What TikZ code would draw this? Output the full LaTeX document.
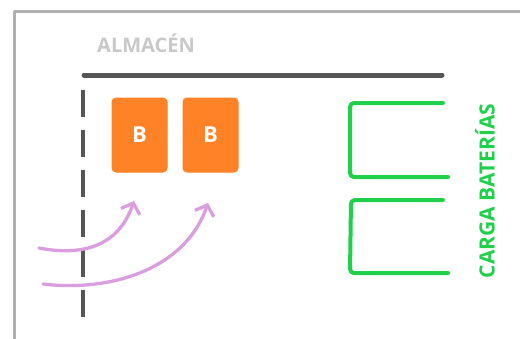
\documentclass[tikz,border=0pt]{standalone}
\usepackage{fontspec}
\setmainfont{Open Sans}
\usetikzlibrary{arrows.meta}
\definecolor{framegrey}{HTML}{B0B0B0}
\definecolor{labelgrey}{HTML}{C8C8C8}
\definecolor{wallgrey}{HTML}{555555}
\definecolor{battorange}{HTML}{FF8226}
\definecolor{chargegreen}{HTML}{1FD14A}
\definecolor{pathviolet}{HTML}{DA9DE0}
\tikzset{
  battery/.style={fill=battorange, draw=battorange, line width=1pt, rounded corners=4pt,
    minimum width=55pt, minimum height=74pt, inner sep=0pt,
    text=white, font=\bfseries\fontsize{22}{22}\selectfont},
  bay/.style={draw=chargegreen, line width=4pt, line cap=round, line join=round, rounded corners=4pt},
  route/.style={draw=pathviolet, line width=3.3pt, line cap=round,
    -{Straight Barb[length=9pt, width=20pt, line width=3.3pt]}},
}
\begin{document}
\begin{tikzpicture}[x=1pt, y=-1pt]
  \useasboundingbox (0,0) rectangle (520,338);
  % outer wall of the building
  \draw[framegrey, line width=3pt] (14,11) -- (530,11);
  \draw[framegrey, line width=3pt] (14,11) -- (14,350);
  \node[text=labelgrey, font=\bfseries\fontsize{20}{20}\selectfont] (title) at (146,43) {ALMACÉN};
  % inner wall and dashed boundary
  \coordinate (wl) at (84,75);
  \coordinate (wr) at (442,75);
  \draw[wallgrey, line width=5pt, line cap=round] (wl) -- (wr);
  \coordinate (dtop) at (83,90);
  \coordinate (dbot) at (83,322);
  \draw[wallgrey, line width=4pt, dash pattern=on 27pt off 13pt] (dtop) -- (dbot);
  % batteries
  \node[battery] (b1) at (139.5,135) {B};
  \node[battery] (b2) at (210.5,135) {B};
  % charging bays
  \coordinate (c1a) at (443,103);
  \coordinate (c1b) at (350,103);
  \coordinate (c1c) at (350,177);
  \coordinate (c1d) at (448,177);
  \draw[bay] (c1a) -- (c1b) -- (c1c) -- (c1d);
  \coordinate (c2a) at (443,200);
  \coordinate (c2b) at (351,200);
  \coordinate (c2c) at (350,273);
  \coordinate (c2d) at (448,273);
  \draw[bay] (c2a) -- (c2b) -- (c2c) -- (c2d);
  \node[text=chargegreen, rotate=90, font=\bfseries\fontsize{21}{21}\selectfont] (charge) at (485,191) {CARGA BATERÍAS};
  % incoming routes
  \coordinate (s1) at (39,248);
  \coordinate (t1) at (134,201);
  \coordinate (s2) at (43,284);
  \coordinate (t2) at (208,203);
  \draw[route] (s1) .. controls (80,256) and (118,248) .. (t1);
  \draw[route] (s2) .. controls (110,292) and (185,270) .. (t2);
\end{tikzpicture}
\end{document}
